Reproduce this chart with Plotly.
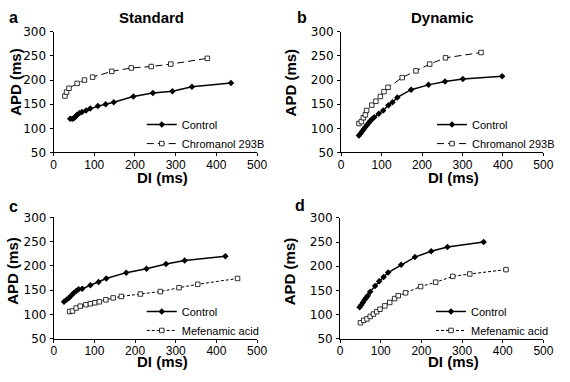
import plotly.graph_objects as go

W, H = 570, 382

# ---------------- data ----------------
a_ctrl_x = [41, 46, 50, 54, 58, 64, 70, 80, 90, 109, 128, 148, 196, 244, 292, 340, 436]
a_ctrl_y = [120, 120, 121, 124, 128, 132, 134, 137, 141, 146, 150, 154, 166, 173, 177, 186, 194]
a_chrom_x = [28, 32, 38, 58, 76, 96, 143, 191, 240, 288, 378]
a_chrom_y = [167, 175, 183, 193, 200, 206, 218, 225, 228, 233, 245]

b_ctrl_x = [44, 48, 52, 56, 60, 64, 68, 72, 76, 82, 93, 104, 117, 127, 139, 173, 216, 257, 301, 398]
b_ctrl_y = [85, 89, 94, 98, 103, 107, 111, 115, 119, 123, 130, 137, 148, 154, 164, 180, 190, 197, 202, 208]
b_chrom_x = [44, 50, 55, 60, 63, 76, 86, 97, 106, 116, 151, 185, 219, 258, 346]
b_chrom_y = [110, 114, 122, 128, 137, 148, 156, 166, 176, 185, 205, 219, 233, 246, 257]

c_ctrl_x = [25, 31, 37, 43, 49, 55, 61, 70, 90, 110, 129, 178, 228, 276, 322, 422]
c_ctrl_y = [126, 130, 134, 139, 144, 148, 152, 153, 160, 167, 174, 186, 194, 204, 211, 220]
c_mef_x = [39, 46, 55, 65, 79, 90, 101, 112, 128, 146, 166, 213, 262, 308, 354, 452]
c_mef_y = [106, 107, 113, 117, 120, 122, 124, 126, 130, 134, 137, 142, 147, 155, 162, 174]

d_ctrl_x = [48, 52, 56, 60, 64, 68, 74, 86, 96, 107, 118, 150, 184, 224, 264, 353]
d_ctrl_y = [115, 120, 125, 130, 135, 139, 147, 159, 169, 178, 187, 203, 219, 231, 240, 250]
d_mef_x = [50, 58, 66, 74, 82, 90, 98, 110, 122, 134, 143, 161, 198, 235, 277, 319, 408]
d_mef_y = [83, 88, 91, 96, 101, 106, 111, 118, 125, 133, 139, 145, 158, 167, 179, 184, 193]

panel_letters = ["a", "b", "c", "d"]
panel_titles = ["Standard", "Dynamic"]
x_title = "DI (ms)"
y_title = "APD (ms)"
x_ticks = [0, 100, 200, 300, 400, 500]
y_ticks = [50, 100, 150, 200, 250, 300]

FONT = "Liberation Sans, Arial, sans-serif"


def fx(px):
    return px / W


def fy(py):
    return 1 - py / H


# panel plot areas in pixels: (left, right, top, bottom)
boxes = [
    (51.7, 260, 25.7, 151),
    (346, 553, 25.7, 151),
    (52, 260, 218.3, 344.3),
    (345, 553, 219, 344.3),
]

fig = go.Figure()

ctrl_style = dict(mode="lines+markers", line=dict(color="black", width=1.5),
                  marker=dict(symbol="diamond", size=5, color="black"))
chrom_style = dict(mode="lines+markers", line=dict(color="black", width=1, dash="7px,4px"),
                   marker=dict(symbol="square", size=4.5, color="white",
                               line=dict(color="black", width=0.8)))
mef_style = dict(mode="lines+markers", line=dict(color="black", width=1, dash="3px,2px"),
                 marker=dict(symbol="square", size=4.5, color="white",
                             line=dict(color="black", width=0.8)))

series = [
    (a_ctrl_x, a_ctrl_y, "Control", ctrl_style, 1),
    (a_chrom_x, a_chrom_y, "Chromanol 293B", chrom_style, 1),
    (b_ctrl_x, b_ctrl_y, "Control", ctrl_style, 2),
    (b_chrom_x, b_chrom_y, "Chromanol 293B", chrom_style, 2),
    (c_ctrl_x, c_ctrl_y, "Control", ctrl_style, 3),
    (c_mef_x, c_mef_y, "Mefenamic acid", mef_style, 3),
    (d_ctrl_x, d_ctrl_y, "Control", ctrl_style, 4),
    (d_mef_x, d_mef_y, "Mefenamic acid", mef_style, 4),
]

for xs, ys, name, style, k in series:
    fig.add_trace(go.Scatter(
        x=xs, y=ys, name=name,
        xaxis="x" if k == 1 else f"x{k}",
        yaxis="y" if k == 1 else f"y{k}",
        legend="legend" if k == 1 else f"legend{k}",
        **style))

layout = dict(
    width=W, height=H,
    margin=dict(l=0, r=0, t=0, b=0),
    paper_bgcolor="white", plot_bgcolor="white",
    font=dict(family=FONT, color="black", size=12),
    showlegend=True,
)

# legend text start positions (px) and legend top y (px)
legend_pos = [(182, 107), (479, 107), (182, 301), (478, 301)]

for i, (l, r, t, b) in enumerate(boxes):
    k = i + 1
    xa = "xaxis" if k == 1 else f"xaxis{k}"
    ya = "yaxis" if k == 1 else f"yaxis{k}"
    xid = "x" if k == 1 else f"x{k}"
    yid = "y" if k == 1 else f"y{k}"
    layout[xa] = dict(
        domain=[fx(l), fx(r)], anchor=yid, range=[0, 500],
        tickvals=x_ticks, ticks="outside", ticklen=3, tickwidth=1, tickcolor="black",
        showline=True, linecolor="black", linewidth=1, showgrid=False, zeroline=False,
        tickfont=dict(family=FONT, size=12, color="black"), fixedrange=True,
        ticklabelstandoff=-2,
    )
    layout[ya] = dict(
        domain=[fy(b), fy(t)], anchor=xid, range=[50, 300],
        tickvals=y_ticks, ticks="outside", ticklen=3, tickwidth=1, tickcolor="black",
        showline=True, linecolor="black", linewidth=1, showgrid=False, zeroline=False,
        tickfont=dict(family="DejaVu Sans, sans-serif", size=12, color="black"),
        ticklabelstandoff=1, fixedrange=True,
    )
    lg = "legend" if k == 1 else f"legend{k}"
    tx, ty = legend_pos[i]
    layout[lg] = dict(
        x=fx(tx - 40), y=fy(ty), xanchor="left", yanchor="top",
        bgcolor="rgba(0,0,0,0)", borderwidth=0,
        font=dict(family=FONT, size=11, color="black"),
        itemwidth=30, tracegroupgap=0,
    )

fig.update_layout(**layout)

ann = []
# panel titles
ann.append(dict(text="<b>%s</b>" % panel_titles[0], x=fx(152), y=fy(10.5)))
ann.append(dict(text="<b>%s</b>" % panel_titles[1], x=fx(449.5), y=fy(10.5)))
# panel letters
letter_pos = [(11, 11), (306, 10.5), (11, 207), (304, 206)]
for L, (px, py) in zip(panel_letters, letter_pos):
    ann.append(dict(text="<b>%s</b>" % L, x=fx(px), y=fy(py), size=16))
# axis titles
xt_pos = [(163, 177), (461.5, 177), (163, 368), (461, 368)]
yt_pos = [(12, 78), (294, 78), (10, 274), (294, 274)]
for px, py in xt_pos:
    ann.append(dict(text="<b>%s</b>" % x_title, x=fx(px), y=fy(py), size=15))
for px, py in yt_pos:
    ann.append(dict(text="<b>%s</b>" % y_title, x=fx(px), y=fy(py), size=15, textangle=-90))

annotations = []
for a in ann:
    annotations.append(dict(
        text=a["text"], x=a["x"], y=a["y"], xref="paper", yref="paper",
        xanchor="center", yanchor="middle", showarrow=False,
        textangle=a.get("textangle", 0),
        font=dict(family=FONT, size=a.get("size", 15), color="black"),
    ))
fig.update_layout(annotations=annotations)

fig.write_html("out.html",
               config={"displayModeBar": False, "staticPlot": True},
               post_script="document.body.style.margin='0';document.body.style.overflow='hidden';")
